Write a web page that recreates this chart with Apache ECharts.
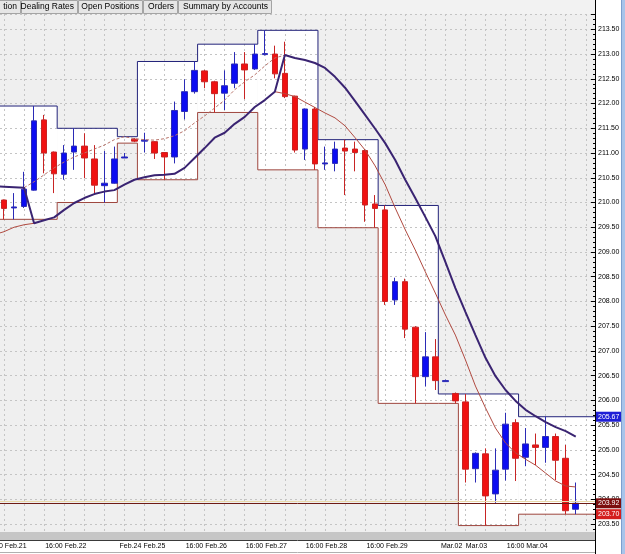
<!DOCTYPE html>
<html>
<head>
<meta charset="utf-8">
<title>Dealing Rates</title>
<script src="https://cdn.jsdelivr.net/npm/echarts@6/dist/echarts.min.js"></script>
<style>
  html, body { margin: 0; padding: 0; background: #fff; }
  #chart { width: 625px; height: 554px; }
</style>
</head>
<body>
<div id="chart"></div>
<script>
// 4 hour candles, index 0 = first candle on screen
var opens  = [210.05, 209.89, 209.92, 210.25, 211.67, 211.02, 210.57, 211.02, 211.14, 210.88,
              210.34, 210.39, 210.90, 211.28, 211.24, 211.23, 211.01, 210.92, 211.84, 212.24,
              212.66, 212.44, 212.21, 212.41, 212.80, 212.70, 212.99, 213.00, 212.61, 212.15,
              211.08, 211.89, 210.78, 210.79, 211.10, 211.08, 211.05, 209.97, 209.85, 208.03,
              208.40, 207.48, 206.48, 206.88, 206.38, 206.14, 205.97, 204.62, 204.92, 204.11,
              204.61, 205.55, 204.85, 205.10, 205.05, 205.27, 204.83, 203.80]
var closes = [209.88, 209.91, 210.27, 211.65, 211.00, 210.58, 211.00, 211.14, 210.90, 210.35,
              210.39, 210.88, 210.92, 211.24, 211.26, 211.00, 210.92, 211.86, 212.24, 212.67,
              212.44, 212.20, 212.36, 212.80, 212.68, 213.00, 213.01, 212.60, 212.14, 211.06,
              211.89, 210.78, 210.80, 211.08, 211.04, 211.01, 209.95, 209.88, 208.00, 208.40,
              207.44, 206.48, 206.88, 206.40, 206.40, 205.99, 204.61, 204.93, 204.07, 204.59,
              205.52, 204.83, 205.12, 205.05, 205.27, 204.79, 203.77, 203.92]
var lows   = [209.66, 209.66, 209.89, 210.24, 210.59, 210.19, 210.46, 210.66, 210.49, 210.19,
              210.00, 210.38, 210.90, 211.22, 211.01, 210.88, 210.46, 210.79, 211.68, 212.20,
              212.31, 211.82, 211.87, 212.31, 212.09, 212.68, 212.97, 212.51, 212.11, 211.01,
              210.86, 210.66, 210.66, 210.63, 210.15, 210.63, 209.61, 209.49, 207.93, 207.93,
              207.26, 205.94, 206.28, 206.21, 206.38, 205.94, 204.34, 204.34, 203.47, 203.93,
              204.38, 204.37, 204.67, 204.69, 204.74, 204.39, 203.70, 203.70]
var highs  = [210.06, 210.19, 210.62, 211.95, 211.77, 211.03, 211.16, 211.50, 211.40, 211.16,
              211.04, 211.13, 211.00, 211.30, 211.41, 211.24, 211.02, 212.04, 212.49, 212.85,
              212.68, 212.46, 212.67, 213.04, 213.04, 213.20, 213.48, 213.17, 213.25, 212.16,
              211.90, 211.93, 211.13, 211.23, 211.27, 211.23, 211.08, 210.15, 209.94, 208.48,
              208.46, 207.50, 207.38, 207.24, 206.42, 206.16, 206.13, 204.95, 205.03, 205.03,
              205.75, 205.62, 205.44, 205.33, 205.67, 205.33, 205.10, 204.34]

// daily range boxes (first candle, last candle, high, low)
var boxStart = [-3, 6, 12, 14, 20, 26, 32, 38, 44, 46, 52]
var boxEnd   = [5, 11, 13, 19, 25, 31, 37, 43, 45, 51, 60]
var boxHigh  = [211.95, 211.50, 211.33, 212.85, 213.20, 213.48, 211.27, 209.94, 206.13, 206.13, 205.67]
var boxLow   = [209.66, 210.00, 211.20, 210.46, 211.82, 210.66, 209.49, 205.94, 205.94, 203.47, 203.70]

// averages
var slowStart = -1
var maSlow = [210.33, 210.32, 210.31, 210.30, 209.58, 209.64, 209.70, 209.85, 209.99, 210.09,
              210.17, 210.22, 210.25, 210.36, 210.46, 210.51, 210.55, 210.56, 210.58, 210.70,
              210.90, 211.10, 211.31, 211.41, 211.59, 211.73, 211.93, 212.07, 212.24, 212.98,
              212.92, 212.88, 212.82, 212.72, 212.54, 212.32, 212.05, 211.77, 211.49, 211.20,
              210.86, 210.46, 210.09, 209.71, 209.32, 208.80, 208.27, 207.79, 207.32, 206.86,
              206.49, 206.21, 205.99, 205.81, 205.68, 205.56, 205.46, 205.38, 205.27]
var fastStartA = -1
var maFastA = [209.35, 209.41, 209.50, 209.55, 209.58]
var fastStartB = 27
var maFastB = [212.24, 212.20, 212.14, 212.03, 211.92, 211.81, 211.71, 211.55, 211.31, 211.06,
               210.74, 210.36, 209.89, 209.45, 209.04, 208.60, 208.17, 207.73, 207.32, 206.82,
               206.29, 205.85, 205.44, 205.14, 204.94, 204.81, 204.69, 204.53, 204.37, 204.27, 204.25]
var dashStart = 2
var maDash = [210.30, 210.42, 210.56, 210.70, 210.82, 210.92, 211.00, 211.08, 211.16, 211.27,
              211.33, 211.29, 211.27, 211.26, 211.29, 211.35, 211.45, 211.61, 211.75, 211.91,
              212.07, 212.28, 212.44, 212.58, 212.76, 212.92, 212.98]

var bidPrice = 203.92
var askPrice = 203.97

// time labels (position in candles)
var xLabelPos  = [0.2, 6.16, 12.61, 15.0, 20.17, 26.15, 32.15, 38.19, 44.63, 47.1, 52.17]
var xLabelText = ['16:00 Feb.21', '16:00 Feb.22', 'Feb.24', 'Feb.25', '16:00 Feb.26', '16:00 Feb.27',
                  '16:00 Feb.28', '16:00 Feb.29', 'Mar.02', 'Mar.03', '16:00 Mar.04']
var gridPos = [0, 2, 4, 6, 8, 10, 12, 14, 16, 18, 20, 22, 24, 26, 28, 30, 32, 34, 36, 38,
               40, 42, 44, 46, 48, 50, 52, 54, 56, 58]

var xMin = -0.4
var xMax = 58.92
var small = "'Liberation Sans', Arial, sans-serif"

var candles = opens.map(function (o, k) {
  return [k, o, closes[k], lows[k], highs[k]]
})

function seg (start, vals) {
  return vals.map(function (v, i) { return [start + i, v] })
}

var fastData = seg(fastStartA, maFastA).concat([[fastStartA + maFastA.length, '-']], seg(fastStartB, maFastB))

var areas = []
var upper = []
var lower = []
for (var i = 0; i < boxStart.length; i++) {
  var x0 = boxStart[i] - 0.7
  var x1 = Math.min(boxEnd[i] + 0.3, xMax)
  areas.push([{ xAxis: Math.max(x0, xMin), yAxis: boxLow[i] }, { xAxis: x1, yAxis: boxHigh[i] }])
  upper.push([x0, boxHigh[i]], [x1, boxHigh[i]])
  lower.push([x0, boxLow[i]], [x1, boxLow[i]])
}

function priceTag (v, bg, line) {
  return {
    yAxis: v,
    lineStyle: { color: line, width: line === 'transparent' ? 0 : 1, type: 'solid' },
    label: {
      show: true,
      position: 'end',
      distance: 1,
      formatter: v.toFixed(2),
      color: '#fff',
      backgroundColor: bg,
      padding: [2, 2, 1, 2],
      fontSize: 7,
      fontFamily: small
    }
  }
}

// tab strip
var tabs = [
  { x: -40, w: 61, text: 'tion' },
  { x: 21, w: 57, text: 'Dealing Rates' },
  { x: 78, w: 65, text: 'Open Positions' },
  { x: 143, w: 35, text: 'Orders' },
  { x: 178, w: 94, text: 'Summary by Accounts' }
]
var graphics = [
  { type: 'rect', shape: { x: 0, y: 0, width: 595, height: 14 }, style: { fill: '#f2f2f2' }, z: 100 }
]
tabs.forEach(function (t) {
  graphics.push({
    type: 'rect',
    shape: { x: t.x + 0.5, y: 0.5, width: t.w - 1, height: 13 },
    style: { fill: '#e6e6e6', stroke: '#a4a4a4', lineWidth: 1 },
    z: 101
  })
  graphics.push({
    type: 'text',
    x: t.x + t.w - 4,
    y: 7,
    style: {
      text: t.text, fill: '#000', font: '8.5px "Liberation Sans", Arial, sans-serif',
      textAlign: 'right', textVerticalAlign: 'middle', align: 'right', verticalAlign: 'middle'
    },
    z: 102
  })
})
graphics.push(
  { type: 'rect', shape: { x: 0, y: 532, width: 595, height: 8 }, style: { fill: '#c6c6c6' }, z: 100 },
  { type: 'line', shape: { x1: 0, y1: 540.5, x2: 595, y2: 540.5 }, style: { stroke: '#3a3a3a', lineWidth: 1 }, z: 100 },
  { type: 'line', shape: { x1: 0, y1: 552.5, x2: 595, y2: 552.5 }, style: { stroke: '#b0b0b0', lineWidth: 1 }, z: 100 },
  { type: 'line', shape: { x1: 595.5, y1: 0, x2: 595.5, y2: 554 }, style: { stroke: '#000', lineWidth: 1 }, z: 100 },
  { type: 'rect', shape: { x: 621, y: 0, width: 4, height: 554 }, style: { fill: '#a8c4ea' }, z: 100 },
  { type: 'line', shape: { x1: 621.5, y1: 0, x2: 621.5, y2: 554 }, style: { stroke: '#7d9fce', lineWidth: 1 }, z: 100 }
)

var myChart = echarts.init(document.getElementById('chart'), null, { renderer: 'canvas' })
var option = {
  animation: false,
  backgroundColor: '#ffffff',
  grid: {
    left: 0,
    right: 30,
    top: 14,
    bottom: 22,
    show: true,
    backgroundColor: '#efefef',
    borderWidth: 0,
    containLabel: false,
    outerBoundsMode: 'none',
    z: 0
  },
  xAxis: {
    type: 'value',
    min: xMin,
    max: xMax,
    z: 2,
    axisLine: { show: false, onZero: false },
    axisTick: { show: false, customValues: gridPos },
    splitLine: {
      show: true,
      lineStyle: { color: '#c4c4c4', type: [2, 3], width: 1 }
    },
    axisLabel: {
      customValues: xLabelPos,
      margin: 11,
      fontSize: 7,
      fontFamily: small,
      color: '#000',
      formatter: function (v) {
        for (var j = 0; j < xLabelPos.length; j++) {
          if (Math.abs(xLabelPos[j] - v) < 1e-6) return xLabelText[j]
        }
        return ''
      }
    }
  },
  yAxis: {
    type: 'value',
    position: 'right',
    min: 203.34,
    max: 213.81,
    splitNumber: 20,
    z: 2,
    axisLine: { show: true, onZero: false, lineStyle: { color: '#000', width: 1 } },
    axisTick: { show: true, inside: true, length: 4, lineStyle: { color: '#000' } },
    minorTick: { show: true, splitNumber: 5, length: 2, lineStyle: { color: '#000' } },
    splitLine: {
      show: true,
      lineStyle: { color: '#c4c4c4', type: [2, 3], width: 1 }
    },
    axisLabel: {
      showMinLabel: false,
      showMaxLabel: false,
      margin: 3,
      fontSize: 7,
      fontFamily: small,
      color: '#000',
      formatter: function (v) { return v.toFixed(2) }
    }
  },
  graphic: graphics,
  series: [
    {
      // white day boxes
      type: 'line',
      data: [],
      z: 1,
      silent: true,
      markArea: {
        silent: true,
        itemStyle: { color: '#ffffff' },
        data: areas
      }
    },
    {
      name: 'high',
      type: 'line',
      data: upper,
      z: 3,
      symbol: 'none',
      silent: true,
      lineStyle: { color: '#23237a', width: 1 }
    },
    {
      name: 'low',
      type: 'line',
      data: lower,
      z: 3,
      symbol: 'none',
      silent: true,
      lineStyle: { color: '#9e463e', width: 1 }
    },
    {
      name: 'price',
      type: 'candlestick',
      data: candles,
      z: 4,
      barWidth: 6,
      itemStyle: {
        color: '#0c0cf2',
        color0: '#f01212',
        borderColor: '#2b2bb6',
        borderColor0: '#c82424',
        borderWidth: 1
      },
      markLine: {
        silent: true,
        symbol: ['none', 'none'],
        animation: false,
        data: [
          { yAxis: askPrice, lineStyle: { color: '#e8d8a8', width: 1, type: 'solid' }, label: { show: false } },
          priceTag(bidPrice, '#7c0e0e', '#6e1a14'),
          priceTag(boxHigh[boxHigh.length - 1], '#1f1fd6', 'transparent'),
          priceTag(boxLow[boxLow.length - 1], '#d41f1f', 'transparent')
        ]
      }
    },
    {
      name: 'dash',
      type: 'line',
      data: seg(dashStart, maDash),
      z: 5,
      symbol: 'none',
      silent: true,
      lineStyle: { color: '#b8736a', width: 1, type: [3, 2] }
    },
    {
      name: 'fast',
      type: 'line',
      data: fastData,
      z: 5,
      symbol: 'none',
      silent: true,
      connectNulls: false,
      lineStyle: { color: '#b04a40', width: 1 }
    },
    {
      name: 'slow',
      type: 'line',
      data: seg(slowStart, maSlow),
      z: 6,
      symbol: 'none',
      silent: true,
      lineStyle: { color: '#3a2472', width: 2 }
    }
  ]
}
myChart.setOption(option, true)
</script>
</body>
</html>
